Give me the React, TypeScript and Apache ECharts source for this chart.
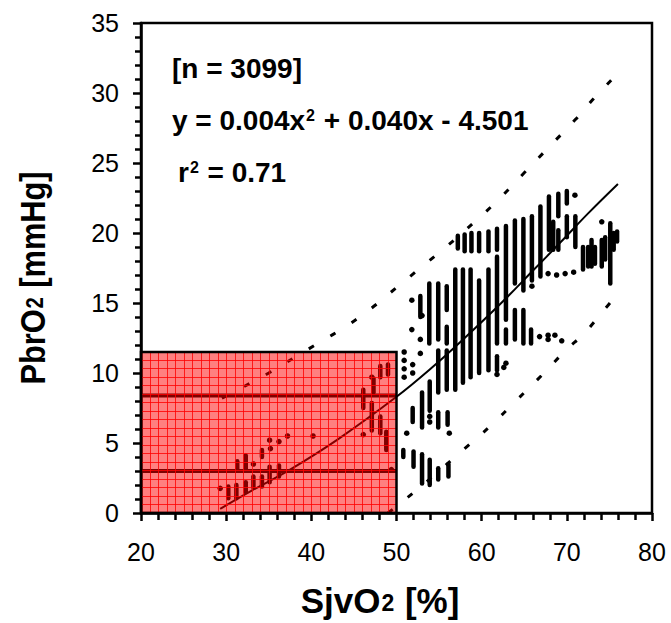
import { useEffect, useRef } from "react";
import * as echarts from "echarts";

const FONT = '"Liberation Sans", Arial, Helvetica, sans-serif';

// Axis ranges / ticks
const xTickValues = [20, 30, 40, 50, 60, 70, 80];
const yTickValues = [0, 5, 10, 15, 20, 25, 30, 35];

// Regression curve
const fitCurve = [
  [29.3, 0.3], [33, 1.6], [37.5, 3.1], [43.2, 5.3], [50, 8.3], [54, 10.3],
  [58, 12.5], [62.3, 15.0], [66, 17.3], [69.2, 19.3], [72.5, 21.4], [76, 23.5],
];

// Prediction bands (dashed)
const upperBand = [
  [29.5, 8.2], [32, 9.0], [35, 10.0], [38, 11.1], [41, 12.2], [44, 13.3], [47, 14.6],
  [50, 16.1], [53, 17.6], [56, 19.1], [59, 20.7], [62, 22.4], [65, 24.3], [68, 26.2],
  [71, 28.1], [73, 29.5], [75.5, 31.1],
];
const lowerBand = [
  [49, 0], [52, 1.45], [55, 3.0], [58, 4.6], [61, 6.2], [64, 8.0], [67, 9.8],
  [70, 11.7], [72, 12.8], [74.5, 14.6], [75.5, 15.3],
];

// Threshold lines inside the critical zone
const thresholdHigh = [[20, 8.4], [50, 8.4]];
const thresholdLow = [[20, 3.0], [50, 3.0]];

// Critical zone [xMin, yMin, xMax, yMax]
const criticalZone = [[20, 0, 50, 11.5]];

// Vertical runs of densely packed measurements [x, yLow, yHigh]
const columnRuns = [
  // inside critical zone
  [30.25, 1.05, 1.9], [31.2, 1.05, 2.0], [31.3, 3.1, 3.7], [32.3, 3.1, 4.1], [32.3, 1.5, 2.2],
  [33.2, 1.8, 2.6], [34.2, 4.0, 4.5], [34.2, 1.9, 2.6], [35.1, 2.2, 3.3], [36.2, 2.6, 3.4],
  [46.1, 7.5, 8.8], [47.1, 5.9, 7.85], [48.1, 5.7, 6.9], [48.8, 4.5, 5.8], [48.1, 9.7, 10.5],
  [49.0, 9.9, 10.6], [47.3, 8.6, 9.6],
  // low cluster
  [50.8, 4.0, 4.5], [52.0, 3.3, 4.4], [53.0, 2.1, 4.2], [53.9, 2.0, 3.8], [54.9, 2.4, 3.2],
  [56.1, 2.6, 3.5],
  // mid cluster
  [51.9, 6.5, 7.5], [53.0, 6.1, 8.6], [53.9, 7.3, 9.4], [54.9, 6.1, 7.2], [56.0, 6.3, 7.2],
  // main mass
  [52.8, 14.0, 15.5], [53.85, 12.1, 16.4], [54.9, 12.4, 16.4], [54.9, 8.6, 11.6],
  [55.9, 8.8, 11.6], [55.9, 12.1, 13.3], [55.9, 14.5, 16.2], [56.9, 8.8, 17.4],
  [57.8, 9.3, 17.4], [58.7, 9.7, 17.4], [59.7, 10.0, 16.6], [60.8, 10.2, 17.4],
  [61.8, 12.1, 18.3], [61.8, 10.2, 11.2], [62.85, 13.8, 20.5], [62.85, 12.1, 13.1],
  [63.9, 16.4, 20.9], [63.9, 12.4, 14.5], [64.9, 15.9, 21.0], [64.9, 12.1, 14.5],
  [65.9, 16.6, 21.2], [65.8, 12.1, 13.1],
  // upper row
  [57.2, 18.9, 19.8], [58.0, 18.7, 19.9], [58.8, 18.7, 20.0], [59.7, 18.7, 20.0],
  [60.8, 18.7, 20.1], [61.8, 18.8, 20.3],
  // upper right
  [66.9, 16.9, 21.9], [67.9, 18.8, 22.6], [68.4, 18.8, 20.8], [69.0, 18.8, 20.2],
  [69.0, 21.2, 22.8], [70.0, 22.1, 23.0], [70.0, 19.7, 21.2], [71.0, 19.0, 21.2],
  [71.9, 17.4, 19.0], [72.5, 17.6, 19.0], [72.9, 17.6, 19.5], [73.3, 17.8, 19.0],
  [74.1, 17.6, 19.5], [74.5, 18.1, 19.7], [75.1, 16.4, 20.7], [75.5, 18.8, 20.0],
  [75.9, 19.4, 20.1],
];

// Isolated measurements [x, y]
const singleDots = [
  [29.3, 1.76], [33.2, 3.5], [35.1, 5.2], [35.2, 4.6], [36.2, 5.1], [37.2, 5.5], [40.2, 5.5],
  [46.1, 5.6], [49.4, 3.1], [47.1, 9.7],
  [51.2, 5.7], [56.2, 5.7], [50.9, 9.7], [50.9, 10.3], [50.9, 10.9], [50.9, 11.5],
  [51.9, 10.0], [51.9, 10.6], [52.8, 11.4], [52.8, 12.4], [51.8, 15.2], [51.8, 13.1],
  [53.9, 6.5], [53.9, 6.9], [53.0, 14.1], [61.8, 9.9], [62.6, 10.4], [62.85, 10.7],
  [66.8, 12.6], [67.8, 12.7], [67.8, 12.4], [68.6, 12.7], [69.4, 12.3],
  [67.8, 17.1], [68.8, 17.0], [69.8, 17.1], [70.8, 17.2],
  [74.1, 20.8], [70.95, 22.7], [65.9, 16.2],
];

// Annotation text
const nLabel = "[n = 3099]";
const eqLabel = "{m|y = 0.004x}{sup|2}{m| + 0.040x - 4.501}";
const r2Label = "{m|r}{sup|2}{m| = 0.71}";
const xTitle = "{m|SjvO}{sub|2}{m| [%]}";
const yTitle = "{m|PbrO}{sub|2}{m| [mmHg]}";

export default function App() {
  const ref = useRef<HTMLDivElement>(null);

  useEffect(() => {
    if (!ref.current) return;
    const chart = echarts.init(ref.current, null, { renderer: "svg" });

    const supRich = {
      m: { fontSize: 28, fontWeight: "bold", fontFamily: FONT, color: "#000", lineHeight: 32 },
      sup: { fontSize: 16, fontWeight: "bold", fontFamily: FONT, color: "#000", lineHeight: 16, verticalAlign: "top", padding: [3, 1, 0, 1] },
    };
    const titleRich = {
      m: { fontSize: 35, fontWeight: "bold", fontFamily: FONT, color: "#000", lineHeight: 40 },
      sub: { fontSize: 23, fontWeight: "bold", fontFamily: FONT, color: "#000", lineHeight: 23, verticalAlign: "bottom", padding: [0, 1, 6, 1] },
    };

    const option: any = {
      animation: false,
      backgroundColor: "#fff",
      grid: {
        left: 141, right: 19, top: 23, bottom: 110,
        show: true, borderColor: "#000", borderWidth: 2.5, backgroundColor: "transparent",
      },
      xAxis: {
        type: "value",
        min: xTickValues[0],
        max: xTickValues[xTickValues.length - 1],
        interval: xTickValues[1] - xTickValues[0],
        axisLine: { show: true, lineStyle: { color: "#000", width: 2.5 } },
        axisTick: { show: true, inside: false, length: 8, lineStyle: { color: "#000", width: 2.5 } },
        minorTick: { show: true, splitNumber: 5, length: 7, lineStyle: { color: "#000", width: 2.5 } },
        splitLine: { show: false },
        axisLabel: { fontSize: 25, fontFamily: FONT, color: "#000", margin: 26 },
      },
      yAxis: {
        type: "value",
        min: yTickValues[0],
        max: yTickValues[yTickValues.length - 1],
        interval: yTickValues[1] - yTickValues[0],
        axisLine: { show: true, lineStyle: { color: "#000", width: 2.5 } },
        axisTick: { show: true, inside: false, length: 8, lineStyle: { color: "#000", width: 2.5 } },
        minorTick: { show: true, splitNumber: 5, length: 6, lineStyle: { color: "#000", width: 2.5 } },
        splitLine: { show: false },
        axisLabel: { fontSize: 25, fontFamily: FONT, color: "#000", margin: 22 },
      },
      series: [
        {
          type: "scatter",
          data: singleDots,
          symbol: "circle",
          symbolSize: 5.5,
          itemStyle: { color: "#000", opacity: 1 },
          z: 2,
        },
        {
          type: "custom",
          data: columnRuns,
          encode: { x: 0, y: [1, 2] },
          renderItem: (params: any, api: any) => {
            const p1 = api.coord([api.value(0), api.value(1)]);
            const p2 = api.coord([api.value(0), api.value(2)]);
            return {
              type: "line",
              shape: { x1: p1[0], y1: p1[1], x2: p2[0], y2: p2[1] },
              style: { stroke: "#000", lineWidth: 4.5, lineCap: "round" },
            };
          },
          z: 2,
        },
        {
          type: "line",
          data: fitCurve,
          smooth: 0.4,
          symbol: "none",
          lineStyle: { color: "#000", width: 2 },
          z: 2,
        },
        {
          type: "line",
          data: upperBand,
          smooth: 0.4,
          symbol: "none",
          lineStyle: { color: "#000", width: 3, type: [6, 19], cap: "butt" },
          z: 2,
        },
        {
          type: "line",
          data: lowerBand,
          smooth: 0.4,
          symbol: "none",
          lineStyle: { color: "#000", width: 3, type: [6, 19], cap: "butt" },
          z: 2,
        },
        {
          type: "line",
          data: thresholdHigh,
          symbol: "none",
          lineStyle: { color: "#000", width: 4 },
          z: 2,
        },
        {
          type: "line",
          data: thresholdLow,
          symbol: "none",
          lineStyle: { color: "#000", width: 4 },
          z: 2,
        },
        {
          type: "custom",
          data: criticalZone,
          encode: { x: [0, 2], y: [1, 3] },
          z: 5,
          renderItem: (params: any, api: any) => {
            const tl = api.coord([api.value(0), api.value(3)]);
            const br = api.coord([api.value(2), api.value(1)]);
            const w = br[0] - tl[0];
            const h = br[1] - tl[1];
            const step = api.size([1, 0])[0];
            const children: any[] = [
              { type: "rect", shape: { x: tl[0], y: tl[1], width: w, height: h }, style: { fill: "rgba(255,0,0,0.5)" } },
            ];
            for (let x = tl[0] + step; x < br[0] - 1; x += step) {
              children.push({
                type: "line",
                shape: { x1: Math.round(x) + 0.5, y1: tl[1], x2: Math.round(x) + 0.5, y2: br[1] },
                style: { stroke: "rgba(255,0,0,0.8)", lineWidth: 1 },
              });
            }
            for (let y = br[1] - step; y > tl[1] + 1; y -= step) {
              children.push({
                type: "line",
                shape: { x1: tl[0], y1: Math.round(y) + 0.5, x2: br[0], y2: Math.round(y) + 0.5 },
                style: { stroke: "rgba(255,0,0,0.8)", lineWidth: 1 },
              });
            }
            children.push({
              type: "rect",
              shape: { x: tl[0], y: tl[1], width: w, height: h },
              style: { fill: "none", stroke: "#000", lineWidth: 2.5 },
            });
            return { type: "group", children };
          },
        },
      ],
      graphic: [
        {
          type: "text",
          left: 172,
          top: 54,
          style: { text: nLabel, fontSize: 28, fontWeight: "bold", fontFamily: FONT, fill: "#000" },
          z: 10,
        },
        {
          type: "text",
          left: 172,
          top: 104,
          style: { text: eqLabel, rich: supRich, fill: "#000" },
          z: 10,
        },
        {
          type: "text",
          left: 178,
          top: 156,
          style: { text: r2Label, rich: supRich, fill: "#000" },
          z: 10,
        },
        {
          type: "text",
          x: 380,
          y: 600,
          style: { text: xTitle, rich: titleRich, fill: "#000", align: "center", verticalAlign: "middle" },
          z: 10,
        },
        {
          type: "text",
          x: 33,
          y: 278,
          rotation: Math.PI / 2,
          scaleX: 0.88,
          style: { text: yTitle, rich: titleRich, fill: "#000", align: "center", verticalAlign: "middle" },
          z: 10,
        },
      ],
    };

    chart.setOption(option);
    return () => chart.dispose();
  }, []);

  return (
    <div
      ref={ref}
      style={{ position: "fixed", left: 0, top: 0, width: 671, height: 623, background: "#fff" }}
    />
  );
}
